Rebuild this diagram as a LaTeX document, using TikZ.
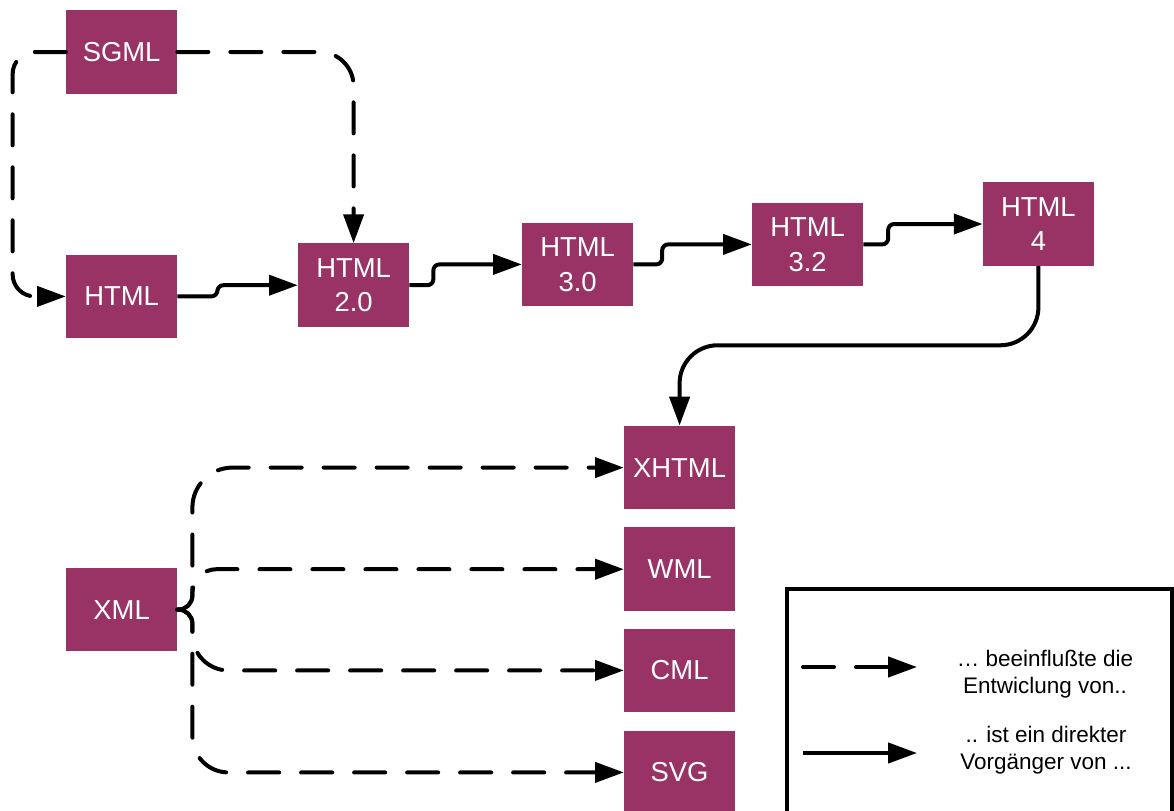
\documentclass[tikz,border=0pt]{standalone}
\usepackage{fontspec}
\setmainfont{Liberation Sans}
\usepackage{tikz}
\usetikzlibrary{arrows.meta, positioning, calc}
\definecolor{myplum}{RGB}{153,51,102}
\definecolor{mydark}{RGB}{0,0,0}
\tikzset{
  langbox/.style={rectangle, fill=myplum, text=white, align=center,
    minimum width=2.775cm, minimum height=2.09cm, inner sep=0pt,
    font=\fontsize{19.5}{24.8}\selectfont},
  tip/.style={-{Triangle[length=0.72cm, width=0.5cm]}},
  influence/.style={tip, line width=0.1cm, line cap=round,
    dash pattern=on 0.775cm off 0.55cm, color=mydark},
  predecessor/.style={tip, line width=0.1cm, color=mydark},
  legtext/.style={align=center, font=\fontsize{16}{19.2}\selectfont}
}

\begin{document}
\begin{tikzpicture}
  \useasboundingbox (0,0) rectangle (29.35,-20.25);

  % HTML line
  \node[langbox] (sgml) at (3.04,-1.30) {SGML};
  \node[langbox] (html) at (3.04,-7.41) {HTML};
  \node[langbox] (html20) at (8.84,-7.13) {HTML\\2.0};
  \node[langbox] (html30) at (14.44,-6.61) {HTML\\3.0};
  \node[langbox] (html32) at (20.19,-6.11) {HTML\\3.2};
  \node[langbox] (html4) at (25.96,-5.60) {HTML\\4};

  % XML family
  \node[langbox] (xml) at (3.04,-15.24) {XML};
  \node[langbox] (xhtml) at (16.99,-11.69) {XHTML};
  \node[langbox] (wml) at (16.99,-14.23) {WML};
  \node[langbox] (cml) at (16.99,-16.76) {CML};
  \node[langbox] (svg) at (16.99,-19.31) {SVG};
  \coordinate (xmlfork) at ($(xml.east)+(0.375,0)$);

  % influence
  \draw[influence, rounded corners=0.55cm] (sgml.west) -- ++(-1.33,0) |- (html.west);
  \draw[influence, rounded corners=0.85cm] (sgml.east) -| (html20.north);
  \draw[influence] (xml.east) [rounded corners=0.35cm] -- (xmlfork)
    [rounded corners=1.0cm] -- (xmlfork |- xhtml.west) -- (xhtml.west);
  \draw[influence] (xml.east) [rounded corners=0.35cm] -- (xmlfork)
    [rounded corners=0.6cm] -- (xmlfork |- wml.west) -- (wml.west);
  \draw[influence] (xml.east) [rounded corners=0.35cm] -- (xmlfork)
    [rounded corners=0.9cm] -- (xmlfork |- cml.west) -- (cml.west);
  \draw[influence] (xml.east) [rounded corners=0.35cm] -- (xmlfork)
    [rounded corners=0.9cm] -- (xmlfork |- svg.west) -- (svg.west);

  % direct predecessors
  \draw[predecessor, rounded corners=0.15cm] (html.east) -- ++(1.0,0) |- (html20.west);
  \draw[predecessor, rounded corners=0.15cm] (html20.east) -- ++(0.6,0) |- (html30.west);
  \draw[predecessor, rounded corners=0.15cm] (html30.east) -- ++(0.72,0) |- (html32.west);
  \draw[predecessor, rounded corners=0.15cm] (html32.east) -- ++(0.62,0) |- (html4.west);
  \draw[predecessor, rounded corners=0.95cm] (html4.south) -- ++(0,-1.98) -| (xhtml.north);

  % Legend
  \draw[line width=0.09cm] (19.675,-14.725) rectangle (29.3,-20.9);
  \coordinate (infla) at (20.075,-16.675);
  \coordinate (inflb) at (22.925,-16.675);
  \coordinate (preda) at (20.075,-18.825);
  \coordinate (predb) at (22.925,-18.825);
  \draw[influence] (infla) -- (inflb);
  \draw[predecessor] (preda) -- (predb);
  \node[legtext] (inflabel) at (26.125,-16.85) {… beeinflußte die\\Entwiclung von..};
  \node[legtext] (predlabel) at (26.15,-18.76) {.. ist ein direkter\\Vorgänger von ...};
\end{tikzpicture}
\end{document}
